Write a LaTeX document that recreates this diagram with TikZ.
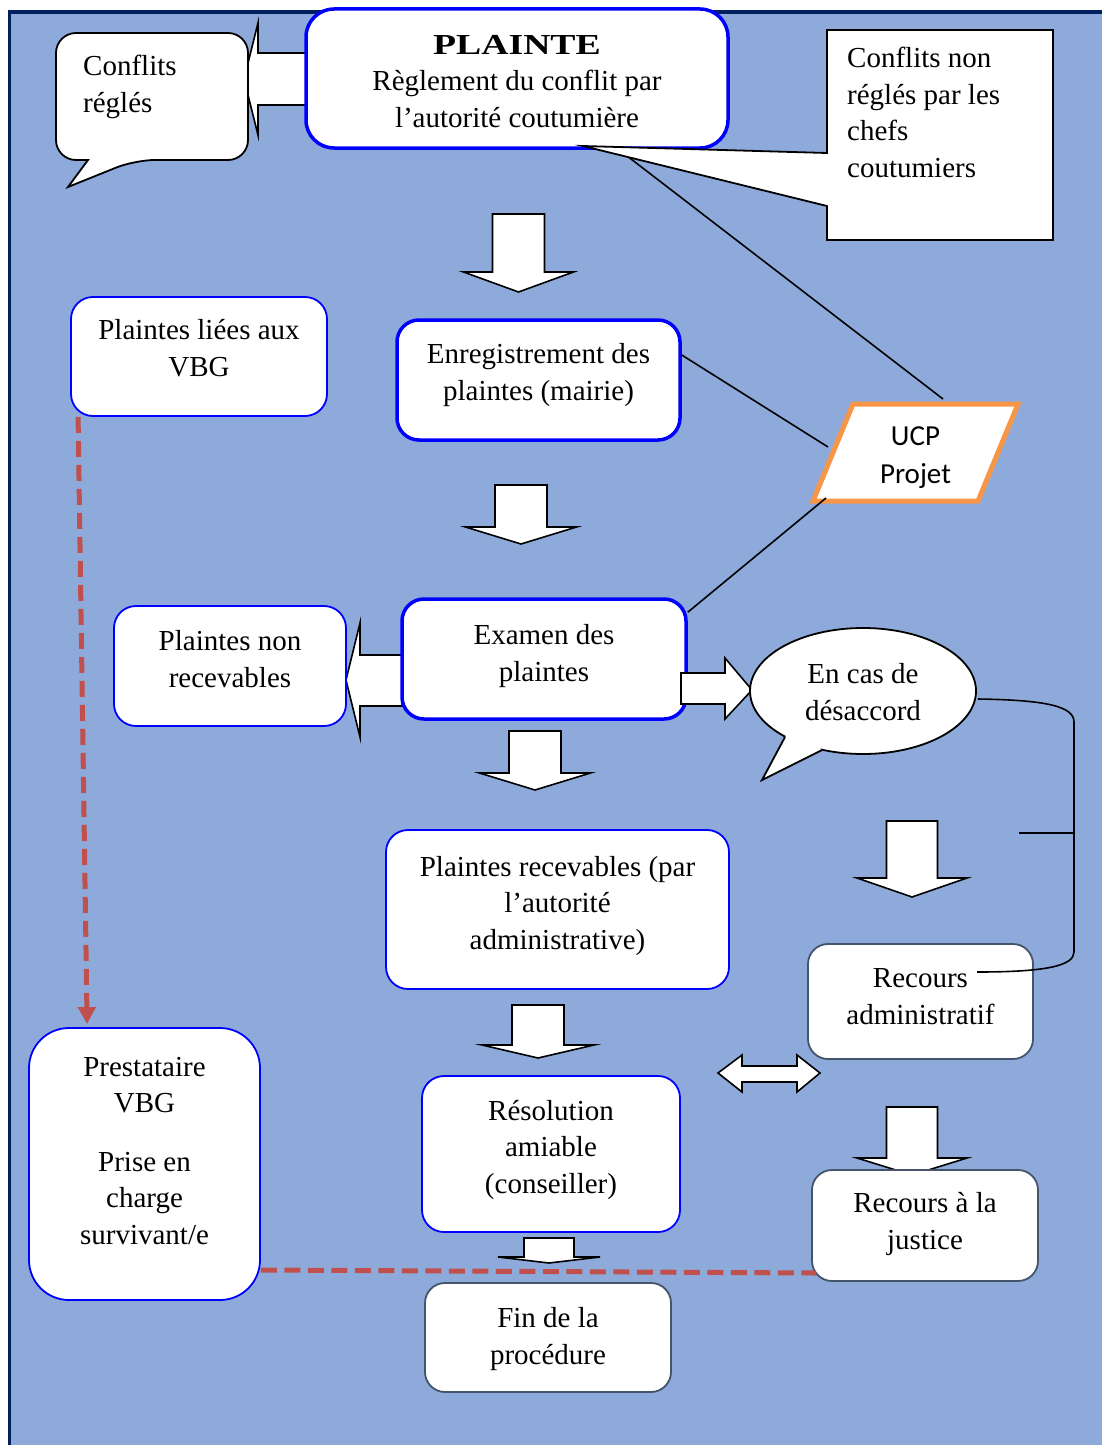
\documentclass[tikz,border=0pt]{standalone}
\usepackage{graphicx}
\usepackage{fontspec}
\setmainfont{Liberation Serif}
\newfontfamily\calfont{Carlito}
\usetikzlibrary{shapes.geometric,arrows.meta,calc}
\definecolor{bgblue}{HTML}{8EAADB}
\definecolor{navyb}{HTML}{002060}
\definecolor{boxblue}{HTML}{0000FF}
\definecolor{ucporange}{HTML}{F79646}
\definecolor{slateb}{HTML}{44546A}
\definecolor{vbgred}{HTML}{C0504D}
\newcommand\dnarr[6]{%
  \draw[blockarr] (#1-#5,#2) -- (#1+#5,#2) -- (#1+#5,#3) -- (#1+#6,#3) -- (#1,#4) -- (#1-#6,#3) -- (#1-#5,#3) -- cycle;}
\begin{document}
\begin{tikzpicture}[x=1pt,y=-1pt,
  txt/.style={font=\fontsize{29}{36.5}\selectfont, align=center, text depth=0pt, inner sep=0pt},
  freetxt/.style={font=\fontsize{29}{36.5}\selectfont, align=left, inner sep=0pt, anchor=base west},
  thickbox/.style={txt, draw=boxblue, line width=3.5pt, fill=white, rounded corners=22pt},
  thinbox/.style={txt, draw=boxblue, line width=1.8pt, fill=white, rounded corners=22pt},
  slatebox/.style={txt, draw=slateb, line width=1.8pt, fill=white, rounded corners=20pt},
  blockarr/.style={draw=black, line width=1.6pt, fill=white, line join=miter},
  callout/.style={draw=black, line width=1.8pt, fill=white},
  ucpshape/.style={draw=ucporange, line width=5pt, fill=white, line join=miter},
  link/.style={draw=black, line width=1.6pt},
  vbgline/.style={draw=vbgred, line width=5pt, dash pattern=on 16pt off 8pt}
]
\useasboundingbox (0,0) rectangle (1102,1445);
\clip (0,0) rectangle (1102,1445);
% background
\fill[white] (0,0) rectangle (1102,1445);
\fill[bgblue] (8,12) rectangle (1102,1445);
\draw[navyb, line width=3.5pt] (9.5,1445) -- (9.5,12) -- (1102,12);

% arrow PLAINTE -> Conflits regles
\draw[blockarr] (306,53) -- (258,53) -- (258,23) -- (244,79) -- (258,135) -- (258,105) -- (306,105) -- cycle;

% PLAINTE
\node[thickbox, rounded corners=28pt, minimum width=422pt, minimum height=139pt, text height=97pt] (pl) at (517,78.5)
  {\scalebox{1.3}[1]{\textbf{PLAINTE}}\\Règlement du conflit par\\l’autorité coutumière};

% Conflits regles callout
\draw[callout] (150,33) [rounded corners=20pt] -- (248,33) -- (248,160) -- (135,160) [sharp corners] -- (68,187) -- (88,160) [rounded corners=20pt] -- (56,160) -- (56,33) -- cycle;
\node[freetxt] (crt) at (83,112) {Conflits\\réglés};

% UCP parallelogram
\coordinate (ucpTL) at (853,404);
\coordinate (ucpTR) at (1018,404);
\coordinate (ucpBR) at (978,501);
\coordinate (ucpBL) at (813,501);
\coordinate (ucpN) at (943,399);
\coordinate (ucpW) at (828,447);
\coordinate (ucpSW) at (826,498);
\draw[ucpshape] (ucpTL) -- (ucpTR) -- (ucpBR) -- (ucpBL) -- cycle;
\node[font=\calfont\fontsize{29}{38}\selectfont, align=center, text height=61pt, text depth=0pt, inner sep=0pt,
  minimum width=120pt, minimum height=90pt] (ucp) at (915.5,452.5) {UCP\\Projet};

% line PLAINTE -> UCP
\draw[link] ($(pl.south)+(102,0)$) -- (ucpN);

% Conflits non regles callout
\draw[callout] (827,30) -- (1053,30) -- (1053,240) -- (827,240) -- (827,206) -- (583,146) -- (827,153) -- cycle;
\node[freetxt] (cnr) at (847,177) {Conflits non\\réglés par les\\chefs\\coutumiers};

% down arrow 1
\dnarr{518.5}{214}{272}{292}{26}{55}

% Enregistrement / VBG
\node[thickbox, minimum width=283pt, minimum height=120pt, text height=40pt] (enr) at (538.5,380) {Enregistrement des\\plaintes (mairie)};
\node[thinbox, minimum width=256pt, minimum height=119pt, text height=39pt] (vbg) at (199,356.5) {Plaintes liées aux\\VBG};

\draw[link] ($(enr.east)+(0,-25)$) -- (ucpW);

% down arrow 2
\dnarr{521}{485}{527}{544}{26}{55.5}

% left arrow Examen -> non recevables
\draw[blockarr] (402,655) -- (360,655) -- (360,623) -- (346,680) -- (360,737) -- (360,706) -- (402,706) -- cycle;

% Examen
\node[thickbox, minimum width=284pt, minimum height=120pt, text height=44pt] (exa) at (544,659) {Examen des\\plaintes};
\node[thinbox, minimum width=232pt, minimum height=120pt, text height=42pt] (nrec) at (230,666) {Plaintes non\\recevables};

\draw[link] ($(exa.north east)+(0,15)$) -- (ucpSW);

% right arrow Examen -> desaccord
\draw[blockarr] (681,673) -- (725,673) -- (725,658) -- (752,690) -- (725,719) -- (725,704) -- (681,704) -- cycle;

% En cas de desaccord
\node[ellipse, txt, draw=black, line width=1.8pt, fill=white, minimum width=226pt, minimum height=126pt, text height=58pt] (disc) at (863,691) {En cas de\\désaccord};
\fill[white] (785,737) -- (762,780) -- (822,750) -- (815,744) -- (790,733) -- cycle;
\draw[line width=1.8pt, line join=miter] (785,737) -- (762,780) -- (822,750);

% down arrows
\dnarr{535}{731}{773}{790}{26}{55.5}
\dnarr{912}{821}{878}{897}{25.5}{55}

% Recevables
\node[thinbox, minimum width=343pt, minimum height=159pt, text height=79pt] (rec) at (557.5,909.5) {Plaintes recevables (par\\l’autorité\\administrative)};

% Recours administratif
\node[slatebox, minimum width=225pt, minimum height=115pt, text height=45pt] (radm) at (920.5,1001.5) {Recours\\administratif};

% bracket connector
\draw[link] ($(disc.east)+(1,8)$) .. controls (1045,700) and (1074,706) .. (1074,722) -- (1074,952) .. controls (1074,966) and (1045,972) .. ($(radm.center)+(56.5,-29.5)$);
\coordinate (tickend) at (1019,833);
\draw[link] (tickend) -- (1074,833);

% down arrow 5
\dnarr{538}{1005}{1045}{1058}{26}{56}

% double arrow
\draw[blockarr] (718,1073) -- (742,1055) -- (742,1066) -- (797,1066) -- (797,1055) -- (820,1073) -- (797,1092) -- (797,1082) -- (742,1082) -- (742,1092) -- cycle;

% down arrow 6
\dnarr{912}{1107}{1158}{1175}{25.5}{55}

% Resolution
\node[thinbox, minimum width=258pt, minimum height=156pt, text height=78pt] (res) at (551,1154) {Résolution\\amiable\\(conseiller)};

% Recours justice
\node[slatebox, minimum width=226pt, minimum height=111pt, text height=47pt] (just) at (925,1225.5) {Recours à la\\justice};

% Prestataire
\node[thinbox, rounded corners=40pt, minimum width=231pt, minimum height=272pt, text height=160pt] (prest) at (144.5,1164) {Prestataire\\VBG\\[22pt]Prise en\\charge\\survivant/e};

% down arrow 7
\dnarr{549}{1238}{1257}{1263}{25}{51}

% Fin
\node[slatebox, minimum width=246pt, minimum height=109pt, text height=53pt] (fin) at (548,1337.5) {Fin de la\\procédure};

% red dashed lines
\draw[vbgline, -{Triangle[length=17pt,width=17pt]}] ($(vbg.south west)+(8,0)$) -- ($(prest.north west)+(59,-3)$);
\draw[vbgline, dash pattern=on 16pt off 7.5pt] ($(prest.east)+(0,106)$) -- ($(just.west)+(5,47.5)$);
\end{tikzpicture}
\end{document}
